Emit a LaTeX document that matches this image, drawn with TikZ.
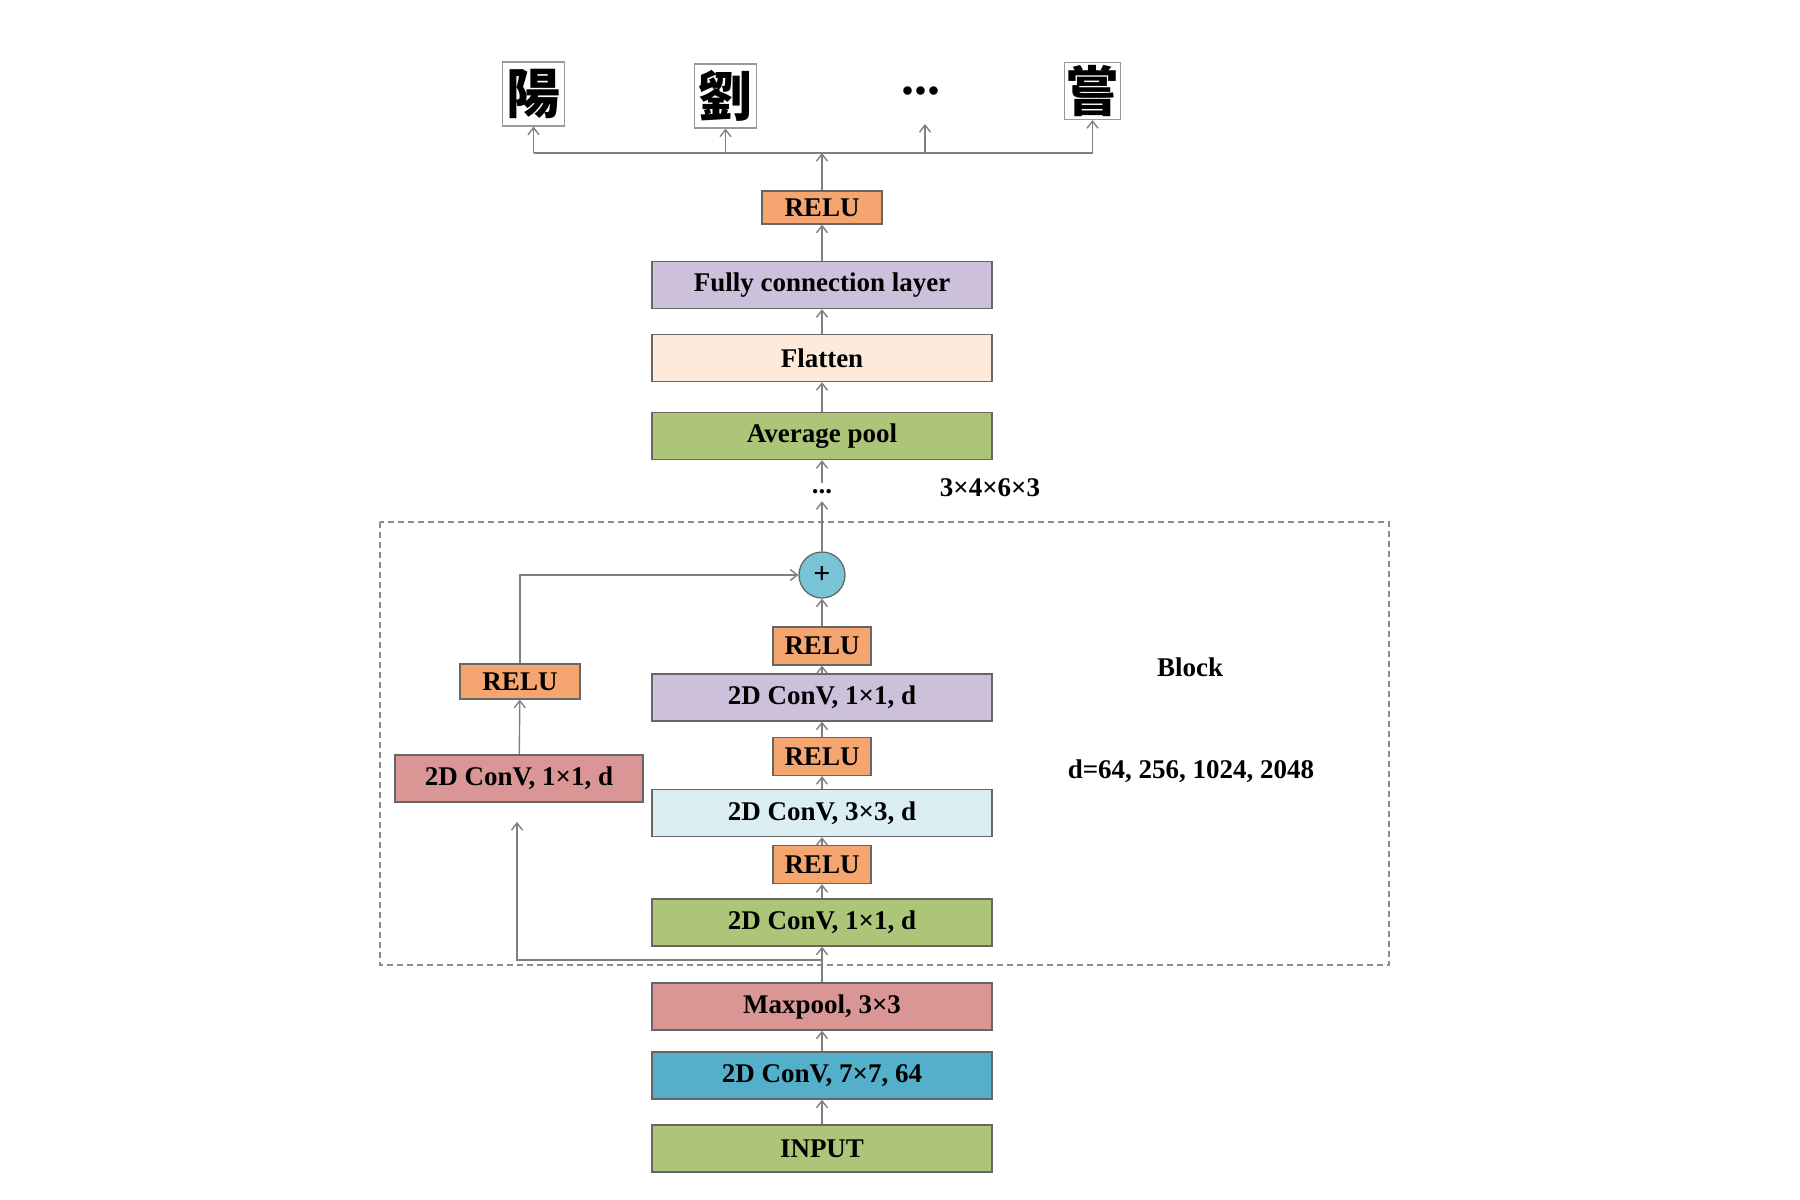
\documentclass[tikz,border=0pt]{standalone}
\usepackage{fontspec}
\setmainfont{Liberation Serif}
\newfontfamily\cjk{Noto Sans CJK TC}
\usetikzlibrary{arrows.meta}
\definecolor{reluC}{RGB}{245,166,112}
\definecolor{purpC}{RGB}{204,192,218}
\definecolor{flatC}{RGB}{253,234,218}
\definecolor{greenC}{RGB}{172,197,120}
\definecolor{lblueC}{RGB}{218,238,243}
\definecolor{redC}{RGB}{218,150,148}
\definecolor{blueC}{RGB}{84,176,202}
\definecolor{circC}{RGB}{122,196,215}
\begin{document}
\begin{tikzpicture}[x=1pt,y=-1pt,
  box/.style={draw=black!60, line width=1.3pt, minimum width=340pt, minimum height=47pt,
    inner sep=0pt, font=\fontsize{27}{30}\selectfont\bfseries},
  relu/.style={box, fill=reluC, minimum width=98pt, minimum height=38pt},
  lbl/.style={font=\fontsize{27}{30}\selectfont\bfseries, inner sep=0pt},
  charbox/.style={draw=black!40, line width=1.2pt, inner sep=0pt, minimum width=62pt,
    minimum height=64pt, font=\cjk\fontsize{54}{58}\selectfont\bfseries},
  wire/.style={draw=black!50, line width=1.4pt},
  conn/.style={wire, -{Straight Barb[length=7pt,width=11pt]}}]
\useasboundingbox (0,0) rectangle (1800,1200);

% output characters
\node[charbox] (k1) at (533.5,94) {陽};
\node[charbox] (k2) at (725.5,96) {劉};
\node[lbl, font=\fontsize{52}{52}\selectfont\bfseries] (kd) at (921,91) {...};
\node[charbox, minimum width=56pt, minimum height=57pt] (k3) at (1092.5,91) {嘗};
\coordinate (kdt) at (925,124);

% main column
\node[relu, minimum width=120pt, minimum height=33pt] (r4) at (822,207.5) {RELU};
\node[box, fill=purpC] (fc) at (822,285) {Fully connection layer};
\node[box, fill=flatC] (fl) at (822,358) {Flatten};
\node[box, fill=greenC] (avg) at (822,436) {Average pool};
\node[lbl, minimum height=18pt] (dots) at (822,492) {...};
\node[lbl] (rep) at (990,488) {3×4×6×3};
\node[circle, draw=black!60, line width=1.3pt, fill=circC, minimum size=46pt, inner sep=0pt,
  font=\fontsize{30}{30}\selectfont\bfseries] (add) at (822,575) {+};
\node[relu] (r3) at (822,646) {RELU};
\node[box, fill=purpC] (p1) at (822,697.5) {2D ConV, 1×1, d};
\node[relu] (r2) at (822,756.5) {RELU};
\node[box, fill=lblueC] (c3) at (822,813) {2D ConV, 3×3, d};
\node[relu] (r1) at (822,864.5) {RELU};
\node[box, fill=greenC] (g1) at (822,922.5) {2D ConV, 1×1, d};
\node[box, fill=redC] (mp) at (822,1006.5) {Maxpool, 3×3};
\node[box, fill=blueC] (c7) at (822,1075.5) {2D ConV, 7×7, 64};
\node[box, fill=greenC] (in) at (822,1148.5) {INPUT};

% left branch
\node[relu, minimum width=120pt, minimum height=35pt] (lr) at (520,681.5) {RELU};
\node[box, fill=redC, minimum width=248pt] (lc) at (519,778.5) {2D ConV, 1×1, d};

% block annotations
\node[lbl] (blk) at (1190,667) {Block};
\node[lbl] (dval) at (1191,771) {d=64, 256, 1024, 2048};
\draw[draw=black!45, line width=1.2pt, dash pattern=on 6pt off 4pt] (380,522) rectangle (1389,965);

% connectors main column
\draw[conn] (in) -- (c7);
\draw[conn] (c7) -- (mp);
\draw[conn] (mp) -- (g1);
\draw[conn] (g1) -- (r1);
\draw[conn] (r1) -- (c3);
\draw[conn] (c3) -- (r2);
\draw[conn] (r2) -- (p1);
\draw[conn] (p1) -- (r3);
\draw[conn] (r3) -- (add);
\draw[conn] (add) -- (dots);
\draw[conn] (dots) -- (avg);
\draw[conn] (avg) -- (fl);
\draw[conn] (fl) -- (fc);
\draw[conn] (fc) -- (r4);

% skip connection
\coordinate (s0) at (822,960);
\coordinate (s1) at (517,960);
\coordinate (s2) at (517,822);
\draw[conn] (s0) -- (s1) -- (s2);
\draw[conn] (lc) -- (lr);
\draw[conn] (lr.north) |- (add.west);

% top distribution
\coordinate (j) at (822,153);
\draw[conn] (r4) -- (j);
\draw[wire] (k1.south |- j) -- (k3.south |- j);
\draw[conn] (k1.south |- j) -- (k1.south);
\draw[conn] (k2.south |- j) -- (k2.south);
\draw[conn] (kdt |- j) -- (kdt);
\draw[conn] (k3.south |- j) -- (k3.south);
\end{tikzpicture}
\end{document}
